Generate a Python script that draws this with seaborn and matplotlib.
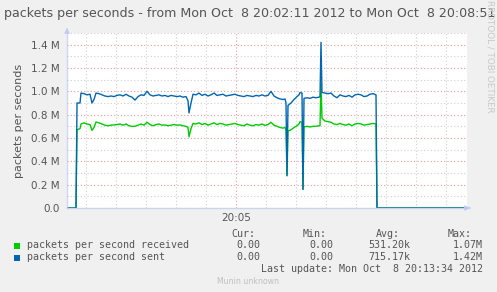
import matplotlib
matplotlib.use("Agg")
import matplotlib.pyplot as plt
from matplotlib.patches import Rectangle
import pandas as pd
import seaborn as sns

# ---- data (seconds after 20:02:11, values in packets/s) ----
t_sec = [0, 9, 10, 13, 14, 17, 20, 23, 25, 27, 29, 32, 35, 38, 41, 44, 47, 50, 53, 56,
         59, 62, 65, 68, 71, 74, 77, 80, 83, 86, 89, 92, 95, 98, 101, 104, 107, 110, 113, 116,
         119, 121, 122, 124, 126, 129, 132, 135, 138, 141, 144, 147, 150, 153, 156, 159, 162, 165, 168, 171,
         174, 177, 180, 183, 186, 189, 192, 195, 198, 201, 204, 207, 210, 213, 216, 218, 219, 220, 221, 224,
         227, 230, 232, 233, 235, 236, 237, 240, 243, 246, 249, 252, 253, 254, 255, 258, 261, 264, 267, 270,
         273, 276, 279, 282, 285, 288, 291, 294, 297, 300, 303, 306, 309, 310, 400]
sent_M = [0, 0, 0.90, 0.90, 0.985, 0.98, 0.97, 0.975, 0.90, 0.93, 0.985, 0.98, 0.97, 0.96, 0.955, 0.96, 0.955, 0.965, 0.97, 0.96,
          0.975, 0.96, 0.95, 0.925, 0.955, 0.97, 0.965, 1.0, 0.97, 0.96, 0.965, 0.97, 0.96, 0.965, 0.955, 0.965, 0.96, 0.955, 0.96, 0.95,
          0.955, 0.92, 0.815, 0.90, 0.975, 0.97, 0.985, 0.965, 0.975, 0.96, 0.97, 0.985, 0.965, 0.97, 0.975, 0.96, 0.965, 0.97, 0.975, 0.965,
          0.96, 0.955, 0.965, 0.96, 0.955, 0.965, 0.96, 0.97, 0.96, 0.965, 1.0, 0.96, 0.945, 0.935, 0.93, 0.935, 0.90, 0.28, 0.88, 0.90,
          0.93, 0.955, 0.97, 0.99, 0.985, 0.16, 0.94, 0.945, 0.94, 0.95, 0.945, 0.95, 0.955, 1.42, 0.99, 0.985, 0.98, 0.985, 0.96, 0.945,
          0.97, 0.96, 0.955, 0.965, 0.95, 0.97, 0.975, 0.97, 0.955, 0.96, 0.975, 0.98, 0.97, 0, 0]
recv_M = [0, 0, 0.67, 0.68, 0.72, 0.73, 0.72, 0.715, 0.665, 0.69, 0.737, 0.73, 0.72, 0.71, 0.705, 0.71, 0.712, 0.715, 0.72, 0.71,
          0.72, 0.705, 0.70, 0.70, 0.71, 0.72, 0.71, 0.735, 0.715, 0.705, 0.715, 0.72, 0.71, 0.712, 0.705, 0.71, 0.715, 0.71, 0.712, 0.705,
          0.70, 0.69, 0.61, 0.68, 0.725, 0.72, 0.73, 0.715, 0.725, 0.71, 0.72, 0.73, 0.715, 0.725, 0.72, 0.71, 0.715, 0.72, 0.725, 0.715,
          0.71, 0.705, 0.72, 0.71, 0.705, 0.715, 0.71, 0.72, 0.708, 0.715, 0.735, 0.71, 0.70, 0.69, 0.685, 0.69, 0.67, 0.275, 0.66, 0.67,
          0.69, 0.705, 0.72, 0.74, 0.735, 0.16, 0.695, 0.70, 0.695, 0.70, 0.70, 0.705, 0.705, 1.07, 0.77, 0.745, 0.74, 0.735, 0.72, 0.715,
          0.725, 0.715, 0.71, 0.72, 0.705, 0.72, 0.725, 0.72, 0.71, 0.715, 0.72, 0.725, 0.72, 0, 0]

series_names = ["packets per second received", "packets per second sent"]
series_colors = ["#00CC00", "#0066B3"]
stat_headers = ["Cur:", "Min:", "Avg:", "Max:"]
stat_cur = ["0.00", "0.00"]
stat_min = ["0.00", "0.00"]
stat_avg = ["531.20k", "715.17k"]
stat_max = ["1.07M", "1.42M"]

y_ticks = [0, 200000, 400000, 600000, 800000, 1000000, 1200000, 1400000]
y_tick_labels = ["0.0", "0.2 M", "0.4 M", "0.6 M", "0.8 M", "1.0 M", "1.2 M", "1.4 M"]
y_minor = [100000, 300000, 500000, 700000, 900000, 1100000, 1300000, 1500000]
x_ticks = [169]
x_tick_labels = ["20:05"]
x_minor = [19, 49, 79, 109, 139, 199, 229, 259, 289, 319, 349, 379]

title = "packets per seconds - from Mon Oct  8 20:02:11 2012 to Mon Oct  8 20:08:51"
y_label = "packets per seconds"
last_update = "Last update: Mon Oct  8 20:13:34 2012"

# ---- figure ----
sns.set_theme(style="white")
plt.rcParams["font.family"] = ["DejaVu Sans"]
W, H = 497, 292
fig = plt.figure(figsize=(W / 100, H / 100), dpi=100, facecolor="#F0F0F0")


def fx(px):
    return px / W


def fy(py):
    return 1 - py / H


ax = fig.add_axes([fx(67), fy(208), fx(467) - fx(67), fy(33) - fy(208)])
ax.set_facecolor("white")

n = len(t_sec)
df = pd.DataFrame({
    "t": t_sec + t_sec,
    "value": [v * 1e6 for v in recv_M] + [v * 1e6 for v in sent_M],
    "series": [series_names[0]] * n + [series_names[1]] * n,
})
sns.lineplot(data=df, x="t", y="value", hue="series", hue_order=series_names,
             palette=series_colors, ax=ax, legend=False, linewidth=1.0, zorder=3)

ax.set_xlim(0, 400)
ax.set_ylim(0, 1500000)
ax.set_yticks(y_ticks)
ax.set_yticklabels(y_tick_labels)
ax.set_yticks(y_minor, minor=True)
ax.set_xticks(x_ticks)
ax.set_xticklabels(x_tick_labels)
ax.set_xticks(x_minor, minor=True)
ax.set_xlabel("")
ax.set_ylabel(y_label, fontsize=8, color="#555555", labelpad=5)

ax.grid(which="minor", color="#cfcfcf", linestyle=(0, (1, 2)), linewidth=0.8, zorder=0)
ax.grid(which="major", color="#e29a9a", linestyle=(0, (1, 2)), linewidth=0.8, zorder=0)
ax.set_axisbelow(True)
ax.tick_params(which="both", direction="out", length=2.5, width=0.6, color="#c8c8c8",
               labelsize=7.5, labelcolor="#555555")
ax.tick_params(axis="y", which="both", pad=3)
ax.tick_params(axis="x", which="both", pad=1.2)

for s in ["top", "right"]:
    ax.spines[s].set_visible(False)
for s in ["left", "bottom"]:
    ax.spines[s].set_color((0.74, 0.78, 0.95, 0.7))
    ax.spines[s].set_linewidth(1.0)
    ax.spines[s].set_zorder(4)

# axis arrows
ax.annotate("", xy=(1.015, 0), xytext=(1.0, 0), xycoords="axes fraction",
            arrowprops=dict(arrowstyle="-|>", color="#c4cbf4", lw=1.0, mutation_scale=7))
ax.annotate("", xy=(0, 1.03), xytext=(0, 1.0), xycoords="axes fraction",
            arrowprops=dict(arrowstyle="-|>", color="#c4cbf4", lw=1.0, mutation_scale=7))

# title and side text
fig.text(fx(4), fy(13), title, fontsize=9.05, color="#555555", ha="left", va="center")
fig.text(fx(490), fy(0.5), "RRDTOOL / TOBI OETIKER", fontsize=6.3, color="#c8c8c8",
         rotation=270, ha="center", va="top")

# legend / stats
mono = "DejaVu Sans Mono"
fs = 7.2
tc = "#555555"
for hx, h in zip([231, 303, 376, 448], stat_headers):
    fig.text(fx(hx), fy(234), h, fontfamily=mono, fontsize=fs, color=tc, ha="left", va="center")
for i, (name, col) in enumerate(zip(series_names, series_colors)):
    yy = 245.5 + 12 * i
    fig.patches.append(Rectangle((fx(14), fy(yy + 3)), fx(6), fy(0) - fy(6),
                                 transform=fig.transFigure, facecolor=col, edgecolor="none"))
    fig.text(fx(27), fy(yy), name, fontfamily=mono, fontsize=fs, color=tc, ha="left", va="center")
    for rx, vals in zip([260, 333, 410, 483], [stat_cur, stat_min, stat_avg, stat_max]):
        fig.text(fx(rx), fy(yy), vals[i], fontfamily=mono, fontsize=fs, color=tc,
                 ha="right", va="center")
fig.text(fx(483), fy(269.5), last_update, fontfamily=mono, fontsize=fs, color=tc,
         ha="right", va="center")
fig.text(fx(248), fy(281), "Munin unknown", fontsize=5.6, color="#c0c0c0", ha="center", va="center")

fig.savefig("out.png", dpi=100, facecolor=fig.get_facecolor())
